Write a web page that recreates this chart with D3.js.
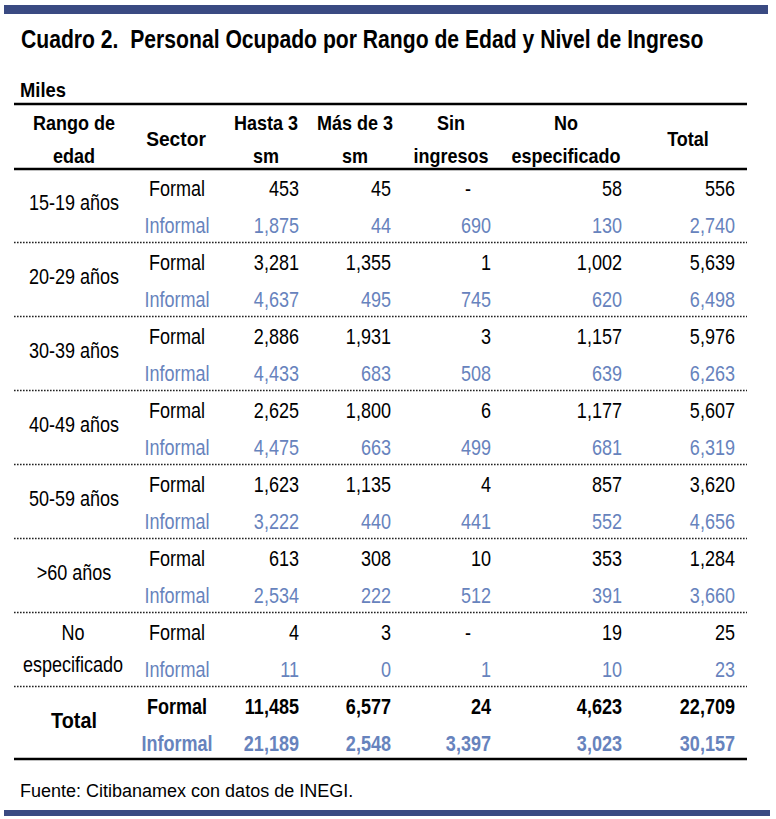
<!DOCTYPE html>
<html><head><meta charset="utf-8">
<script src="https://cdn.jsdelivr.net/npm/d3@7"></script>
<style>
html,body{margin:0;padding:0;background:#fff;}
svg{display:block;}
text{white-space:pre;}
</style></head>
<body>
<script>
const title = "Cuadro 2.  Personal Ocupado por Rango de Edad y Nivel de Ingreso";
const unitLabel = "Miles";
const source = "Fuente: Citibanamex con datos de INEGI.";
const ageGroups = ["15-19 años","20-29 años","30-39 años","40-49 años","50-59 años",">60 años","No|especificado","Total"];
const sectors = ["Formal","Informal"];
const columns = ["Hasta 3|sm","Más de 3|sm","Sin|ingresos","No|especificado","Total"];
const formalValues = [
  [453,45,null,58,556],
  [3281,1355,1,1002,5639],
  [2886,1931,3,1157,5976],
  [2625,1800,6,1177,5607],
  [1623,1135,4,857,3620],
  [613,308,10,353,1284],
  [4,3,null,19,25],
  [11485,6577,24,4623,22709]
];
const informalValues = [
  [1875,44,690,130,2740],
  [4637,495,745,620,6498],
  [4433,683,508,639,6263],
  [4475,663,499,681,6319],
  [3222,440,441,552,4656],
  [2534,222,512,391,3660],
  [11,0,1,10,23],
  [21189,2548,3397,3023,30157]
];

const W = 776, H = 819;
const FONT = "'Liberation Sans',Arial,sans-serif";
const BLUE = "#6783bd";
const NAVY = "#3a4a82";
const svg = d3.select("body").append("svg").attr("width", W).attr("height", H);

function txt(parent, x, y, str, o) {
  o = o || {};
  const t = parent.append("text")
    .attr("transform", `translate(${x},${y}) scale(${o.sx || 0.82},1)`)
    .attr("font-family", FONT)
    .attr("font-size", o.size || 22)
    .attr("font-weight", o.bold ? "bold" : "normal")
    .attr("fill", o.color || "#000")
    .attr("text-anchor", o.anchor || "start")
    .text(str);
  return t;
}

// bars
svg.append("rect").attr("x",4).attr("y",5).attr("width",764).attr("height",9).attr("fill",NAVY);
svg.append("rect").attr("x",4).attr("y",810).attr("width",766).attr("height",6).attr("fill",NAVY);

const tt = txt(svg, 21, 48, title, {bold:true, size:25, sx:1});
const tw = tt.node().getComputedTextLength();
tt.attr("transform", `translate(21,48) scale(${683/tw},1)`);
txt(svg, 20, 97, unitLabel, {bold:true, size:20, sx:0.92});
txt(svg, 20, 797, source, {size:18, sx:1});

const x0 = 14, x1 = 747;
const y = d3.scaleBand().domain(ageGroups).range([168, 760]);
const colRight = d3.scaleOrdinal().domain(columns).range([299, 391, 491, 622, 735]);
const colCenter = d3.scaleOrdinal().domain(columns).range([266, 355, 451, 566, 688]);
const fmt = d3.format(",");

// rules
svg.append("line").attr("x1",x0).attr("x2",x1).attr("y1",104).attr("y2",104).attr("stroke","#000").attr("stroke-width",2.5);
svg.append("line").attr("x1",x0).attr("x2",x1).attr("y1",169).attr("y2",169).attr("stroke","#000").attr("stroke-width",2.5);
svg.append("line").attr("x1",x0).attr("x2",x1).attr("y1",759).attr("y2",759).attr("stroke","#000").attr("stroke-width",2.5);
svg.selectAll("line.sep").data(ageGroups.slice(1)).enter().append("line").attr("class","sep")
  .attr("x1",x0).attr("x2",x1).attr("y1",d=>y(d)+0.5).attr("y2",d=>y(d)+0.5)
  .attr("stroke","#222").attr("stroke-width",1.6).attr("stroke-dasharray","1.6,1.4");

// header
const hdr = svg.append("g");
const H_OPT = {bold:true, size:20, sx:0.9, anchor:"middle"};
txt(hdr, 74, 130, "Rango de", H_OPT);
txt(hdr, 74, 163, "edad", H_OPT);
txt(hdr, 176, 146, "Sector", Object.assign({}, H_OPT, {sx:0.96}));
columns.forEach(c => {
  const parts = c.split("|");
  if (parts.length === 1) {
    txt(hdr, colCenter(c), 146, parts[0], H_OPT);
  } else {
    txt(hdr, colCenter(c), 130, parts[0], H_OPT);
    txt(hdr, colCenter(c), 163, parts[1], H_OPT);
  }
});

// body
const body = svg.append("g");
ageGroups.forEach((g, i) => {
  const t = y(g);
  const isTotal = g === "Total";
  if (g.includes("|")) {
    const p = g.split("|");
    txt(body, 73, t+28, p[0], {anchor:"middle"});
    txt(body, 73, t+60, p[1], {anchor:"middle"});
  } else if (isTotal) {
    txt(body, 74, t+42, g, {anchor:"middle", bold:true, sx:0.9});
  } else {
    txt(body, 74, t+42, g, {anchor:"middle"});
  }
  [formalValues[i], informalValues[i]].forEach((vals, s) => {
    const by = t + (s === 0 ? 28 : 65);
    const color = s === 0 ? "#000" : BLUE;
    txt(body, 177, by, sectors[s], {anchor:"middle", color, bold:isTotal});
    vals.forEach((v, j) => {
      const c = columns[j];
      if (v === null) txt(body, 468, by, "-", {anchor:"middle", color, bold:isTotal});
      else txt(body, colRight(c), by, fmt(v), {anchor:"end", color, bold:isTotal});
    });
  });
});
</script>
</body></html>
